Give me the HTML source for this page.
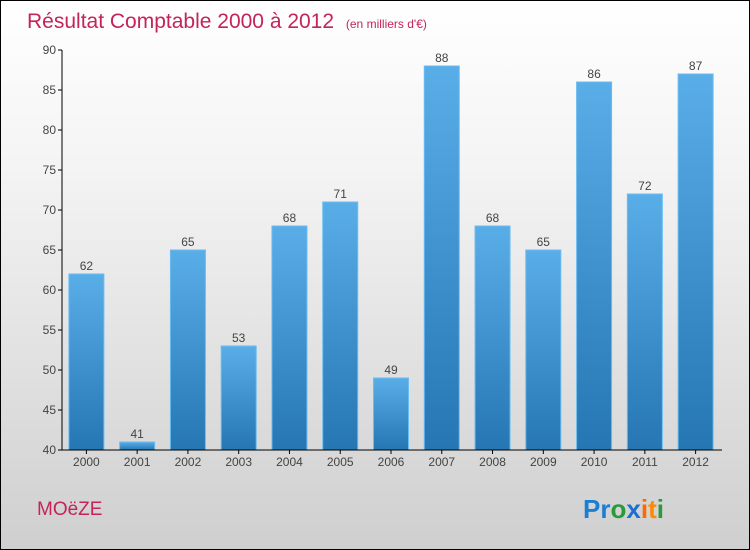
<!DOCTYPE html>
<html><head><meta charset="utf-8"><style>
body{margin:0}
#c{width:748px;height:548px;border:1px solid #000;background:linear-gradient(#fff,#f4f4f4 30%,#cfcfcf);position:relative;font-family:"Liberation Sans",sans-serif;overflow:hidden}
</style></head><body>
<div id="c">
<svg width="748" height="548" id="s">
<defs><linearGradient id="bg" x1="0" y1="0" x2="0" y2="1"><stop offset="0" stop-color="#5aaee8"/><stop offset="1" stop-color="#2576b3"/></linearGradient></defs>
<text x="26" y="27" font-size="21" fill="#c3245a">Résultat Comptable 2000 à 2012 <tspan font-size="12" dx="6">(en milliers d'€)</tspan></text>
<text x="36" y="514" font-size="19" fill="#c3245a">MOëZE</text>
<text x="582" y="517" font-size="26" font-weight="bold"><tspan fill="#1a7fd4">Pr</tspan><tspan fill="#2a9a3a">o</tspan><tspan fill="#1a6fd0">x</tspan><tspan fill="#ff6a00">i</tspan><tspan fill="#ff8a00">t</tspan><tspan fill="#2a9a3a">i</tspan></text>
</svg></div>
<script>
const years=["2000","2001","2002","2003","2004","2005","2006","2007","2008","2009","2010","2011","2012"];
const values=[62,41,65,53,68,71,49,88,68,65,86,72,87];
const yTicks=[40,45,50,55,60,65,70,75,80,85,90];
const s=document.getElementById('s');const NS="http://www.w3.org/2000/svg";
const x0=61,x1=721,yMin=40,yMax=90,py0=449,py1=49;
const y=v=>py0-(v-yMin)/(yMax-yMin)*(py0-py1);
const step=(x1-x0)/years.length;const xc=i=>x0+step*(i+0.5)-1;
function el(t,a){const e=document.createElementNS(NS,t);for(const k in a)e.setAttribute(k,a[k]);s.appendChild(e);return e;}
values.forEach((v,i)=>{
const r=el('rect',{x:xc(i)-17.5,y:y(v),width:35,height:py0-y(v),fill:'url(#bg)',stroke:'#6bbcf0','stroke-width':1});


const t=el('text',{x:xc(i),y:y(v)-4,'font-size':12,fill:'#444','text-anchor':'middle'});t.textContent=v;


const l=el('text',{x:xc(i),y:py0+16,'font-size':12,fill:'#444','text-anchor':'middle'});l.textContent=years[i];


el('line',{x1:xc(i),x2:xc(i),y1:py0,y2:py0+4,stroke:'#000'});
});
yTicks.forEach(v=>{
el('line',{x1:x0-4,x2:x0,y1:y(v),y2:y(v),stroke:'#000'});
const t=el('text',{x:x0-6,y:y(v)+4,'font-size':12,fill:'#444','text-anchor':'end'});t.textContent=v;


});
const ya=el('line',{x1:x0,x2:x0,y1:py1,y2:py0,stroke:'#000'});


const xa=el('line',{x1:x0,x2:x1,y1:py0,y2:py0,stroke:'#000'});


</script>
</body></html>
